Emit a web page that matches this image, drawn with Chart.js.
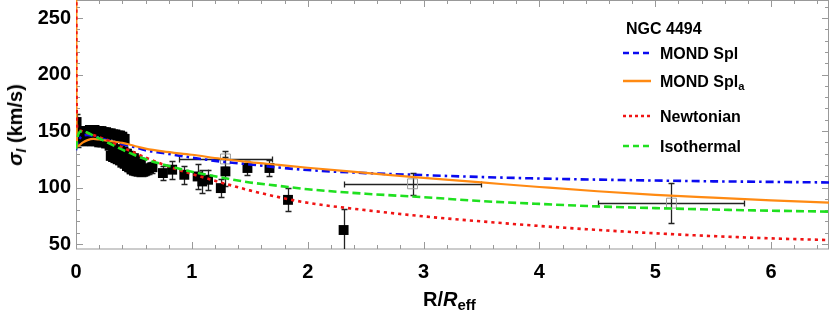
<!DOCTYPE html>
<html><head><meta charset="utf-8">
<script src="https://cdn.jsdelivr.net/npm/chart.js@4"></script>
<style>
html,body{margin:0;padding:0;background:#fff;}
#wrap{position:relative;width:830px;height:315px;overflow:hidden;}
#c{position:absolute;left:0;top:0;}
.t{position:absolute;font-family:"Liberation Sans",Arial,sans-serif;font-weight:bold;color:#000;white-space:nowrap;line-height:1;}
.leg{font-size:16px;}
.leg svg{position:absolute;}
sub{font-size:70%;vertical-align:baseline;position:relative;top:0.3em;}
</style></head>
<body>
<div id="wrap">
<canvas id="c" width="830" height="315"></canvas>
<div class="t leg" style="left:626px;top:21px;">NGC 4494</div>
<div class="t leg" style="left:622px;top:46px;width:200px;height:20px;"><svg width="30" height="6" style="left:0;top:4px"><line x1="1" y1="3" x2="29" y2="3" stroke="#0a0af0" stroke-width="2.5" stroke-dasharray="6,4"/></svg><span style="position:absolute;left:38px;top:0">MOND Spl</span></div>
<div class="t leg" style="left:622px;top:74px;width:200px;height:24px;"><svg width="30" height="6" style="left:0;top:4px"><line x1="1" y1="3" x2="29" y2="3" stroke="#ff8a12" stroke-width="2.5"/></svg><span style="position:absolute;left:38px;top:0">MOND Spl<sub>a</sub></span></div>
<div class="t leg" style="left:622px;top:109px;width:200px;height:20px;"><svg width="30" height="6" style="left:0;top:4px"><line x1="1" y1="3" x2="29" y2="3" stroke="#f01414" stroke-width="2.5" stroke-dasharray="3,3"/></svg><span style="position:absolute;left:38px;top:0">Newtonian</span></div>
<div class="t leg" style="left:622px;top:139px;width:200px;height:20px;"><svg width="30" height="6" style="left:0;top:4px"><line x1="1" y1="3" x2="29" y2="3" stroke="#1fe01f" stroke-width="2.5" stroke-dasharray="6,4"/></svg><span style="position:absolute;left:38px;top:0">Isothermal</span></div>
<div class="t" id="xt" style="left:423px;top:289px;font-size:20px;">R/<i>R</i><sub style="font-size:75%;top:0.25em;">eff</sub></div>
<div class="t" id="yt" style="left:15px;top:125px;font-size:20px;transform:translate(-50%,-50%) rotate(-90deg);"><i>σ</i><sub style="font-size:70%;"><i>I</i></sub> (km/s)</div>
</div>
<script>
// ---- data ----
const curveX = [0, 0.004, 0.012, 0.03, 0.06, 0.1, 0.15, 0.2, 0.3, 0.4, 0.5, 0.6, 0.75, 1, 1.25, 1.5, 1.75, 2, 2.5, 3, 3.5, 4, 4.5, 5, 5.5, 6, 6.5];
const mondSpl = [133, 136, 139, 143, 146, 146.5, 145.5, 144, 141, 138.5, 136, 133, 130.5, 126.5, 123, 120.5, 117.7, 115.5, 112.8, 111, 109.3, 108, 107, 106.2, 105.5, 105, 104.5];
const mondSplA = [500, 170, 136.5, 137.5, 140, 142, 143, 142.5, 141, 139.5, 137, 134.5, 132, 129, 125.5, 122.5, 120, 117.5, 113, 108.5, 104.5, 100.5, 96.7, 93.5, 91, 88.7, 86.7];
const newtonian = [500, 190, 152, 150.5, 149.5, 148, 146.5, 144.5, 140.5, 135.5, 131, 126.5, 120.5, 112, 104.5, 97.5, 91.5, 86.5, 80, 74.5, 70, 66, 62.5, 59.5, 57, 55, 53.5];
const isothermal = [134, 138, 144, 149, 150, 148.5, 146, 143.5, 138.5, 133.5, 129, 125, 120.5, 114, 109, 104.5, 101.5, 98.5, 94.5, 91.5, 88, 85.5, 83.3, 81.8, 80.5, 79.5, 78.7];

const obsR   = [0.005,0.012,0.02,0.03,
                0.04,0.06,0.08,0.10,0.12,0.14,0.16,0.18,0.20,0.22,0.24,0.26,0.28,0.30,0.32,0.34,0.36,0.38,0.40,0.42,
                0.05,0.08,0.11,0.14,0.17,0.20,0.23,0.26,0.29,0.32,0.35,0.38,0.41,0.44,0.47,0.50,0.53,0.56,
                0.30,0.32,0.34,0.36,0.38,0.40,0.42,0.44,0.46,0.48,0.50,0.52,0.54,0.56,0.58,0.60,0.63,0.66,
                0.75,0.83,0.935,1.05,1.09,1.14,1.25,1.29,1.48,1.67,1.83,2.31];
const obsSig = [158,150,141,146,
                149,150,150,150,151,150,151,150,150,150,149,149,148,148,147,147,146,146,145,143,
                142,141,142,141,141,140,140,139,137,135,134,133,132,130,128,126,124,122,
                128,127,126,125,124,122,121,119,118,116,115,115,114,115,114,115,117,118,
                112.8,115.8,111.3,109.8,105.4,106.9,99.5,114.3,117.3,117.3,89.1,62.4];
const obsErr = [7,6,5,4,
                4,3,3,3,3,3,3,3,3,3,3,3,3,3,3,4,4,4,4,4,
                3,3,3,3,3,3,3,3,3,4,4,4,4,4,4,4,4,4,
                3,3,3,3,3,3,4,4,4,4,4,4,4,4,4,4,5,5,
                6,8,8,11,10,9,8,13,6,7,10.3,18.5];

const binR    = [1.29, 2.905, 5.14];
const binSig  = [125.3, 103.3, 86.2];
const binRErr = [0.405, 0.595, 0.63];
const binSErr = [6.7, 9.8, 17.5];

const xTicks = [0,1,2,3,4,5,6];
const yTicks = [50,100,150,200,250];

// ---- helpers ----
const pts = (xs, ys) => xs.map((x, i) => ({x: x, y: ys[i]}));

const framePlugin = {
  id: 'frame',
  beforeDatasetsDraw(chart) {
    const ctx = chart.ctx, xs = chart.scales.x, ys = chart.scales.y, a = chart.chartArea;
    ctx.save();
    ctx.strokeStyle = '#999'; ctx.lineWidth = 1;
    ctx.strokeRect(a.left + 0.5, a.top + 0.5, a.right - a.left - 1, a.bottom - a.top - 0.5);
    ctx.beginPath();
    for (let k = 0; k <= 32; k++) {
      const v = k * 0.2; if (v > xs.max + 1e-9) break;
      const major = k % 5 === 0; const L = major ? 7 : 4;
      const px = Math.round(xs.getPixelForValue(v)) + 0.5;
      ctx.moveTo(px, a.bottom); ctx.lineTo(px, a.bottom - L);
      ctx.moveTo(px, a.top); ctx.lineTo(px, a.top + L);
    }
    for (let v = 50; v <= ys.max; v += 10) {
      const major = v % 50 === 0; const L = major ? 7 : 4;
      const py = Math.round(ys.getPixelForValue(v)) + 0.5;
      ctx.moveTo(a.left, py); ctx.lineTo(a.left + L, py);
      ctx.moveTo(a.right, py); ctx.lineTo(a.right - L, py);
    }
    ctx.stroke();
    ctx.beginPath(); ctx.rect(a.left, a.top, a.right - a.left, a.bottom - a.top); ctx.clip();
    ctx.strokeStyle = '#222';
    ctx.beginPath();
    obsR.forEach((r, i) => {
      const px = Math.round(xs.getPixelForValue(r)) + 0.5;
      const y1 = ys.getPixelForValue(obsSig[i] + obsErr[i]);
      const y2 = ys.getPixelForValue(obsSig[i] - obsErr[i]);
      ctx.moveTo(px, y1); ctx.lineTo(px, y2);
      ctx.moveTo(px - 3, Math.round(y1) + 0.5); ctx.lineTo(px + 3, Math.round(y1) + 0.5);
      ctx.moveTo(px - 3, Math.round(y2) + 0.5); ctx.lineTo(px + 3, Math.round(y2) + 0.5);
    });
    binR.forEach((r, i) => {
      const px = Math.round(xs.getPixelForValue(r)) + 0.5;
      const py = Math.round(ys.getPixelForValue(binSig[i])) + 0.5;
      const x1 = Math.round(xs.getPixelForValue(r - binRErr[i])) + 0.5;
      const x2 = Math.round(xs.getPixelForValue(r + binRErr[i])) + 0.5;
      const y1 = Math.round(ys.getPixelForValue(binSig[i] + binSErr[i])) + 0.5;
      const y2 = Math.round(ys.getPixelForValue(binSig[i] - binSErr[i])) + 0.5;
      ctx.moveTo(x1, py); ctx.lineTo(x2, py);
      ctx.moveTo(x1, py - 3); ctx.lineTo(x1, py + 3);
      ctx.moveTo(x2, py - 3); ctx.lineTo(x2, py + 3);
      ctx.moveTo(px, y1); ctx.lineTo(px, y2);
      ctx.moveTo(px - 3, y1); ctx.lineTo(px + 3, y1);
      ctx.moveTo(px - 3, y2); ctx.lineTo(px + 3, y2);
    });
    ctx.lineWidth = 1.3;
    ctx.stroke();
    ctx.restore();
  }
};

const curve = (label, ys, color, dash, w) => ({
  type: 'scatter', label: label, data: pts(curveX, ys), showLine: true,
  borderColor: color, backgroundColor: color, borderWidth: w, borderDash: dash,
  pointRadius: 0, cubicInterpolationMode: 'monotone', fill: false
});

new Chart(document.getElementById('c'), {
  type: 'scatter',
  data: {
    datasets: [
      curve('Isothermal', isothermal, '#1fe01f', [8, 4], 2.6),
      curve('Newtonian', newtonian, '#f01414', [3.2, 4], 2.6),
      curve('MOND Spl_a', mondSplA, '#ff8a12', [], 2.2),
      curve('MOND Spl', mondSpl, '#0a0af0', [8, 4, 2.5, 4], 2.6),
      { type: 'scatter', label: 'binned', data: pts(binR, binSig), pointStyle: 'rect', pointRadius: 7,
        backgroundColor: 'rgba(255,255,255,0)', borderColor: '#999', borderWidth: 1 },
      { type: 'scatter', label: 'data', data: pts(obsR, obsSig), pointStyle: 'rect', pointRadius: 7,
        backgroundColor: '#000', borderColor: '#000', borderWidth: 0 }
    ]
  },
  options: {
    responsive: false, animation: false, devicePixelRatio: 1,
    layout: { autoPadding: false, padding: { top: 0, right: 1, left: 0, bottom: 0 } },
    plugins: { legend: { display: false }, tooltip: { enabled: false } },
    scales: {
      x: {
        type: 'linear', min: 0, max: 6.5,
        afterBuildTicks: s => { s.ticks = xTicks.map(v => ({value: v})); },
        afterFit: s => { s.height = 66; s.paddingLeft = 0; s.paddingRight = 0; },
        grid: { display: false, drawTicks: false }, border: { display: false },
        ticks: { padding: 11, color: '#000', font: { family: 'Liberation Sans', weight: 'bold', size: 20 }, maxRotation: 0 }
      },
      y: {
        type: 'linear', min: 45.6, max: 266,
        afterBuildTicks: s => { s.ticks = yTicks.map(v => ({value: v})); },
        afterFit: s => { s.width = 76; s.paddingTop = 0; s.paddingBottom = 0; },
        grid: { display: false, drawTicks: false }, border: { display: false },
        ticks: { padding: 5, color: '#000', font: { family: 'Liberation Sans', weight: 'bold', size: 20 } }
      }
    }
  },
  plugins: [framePlugin]
});
</script>
</body></html>
